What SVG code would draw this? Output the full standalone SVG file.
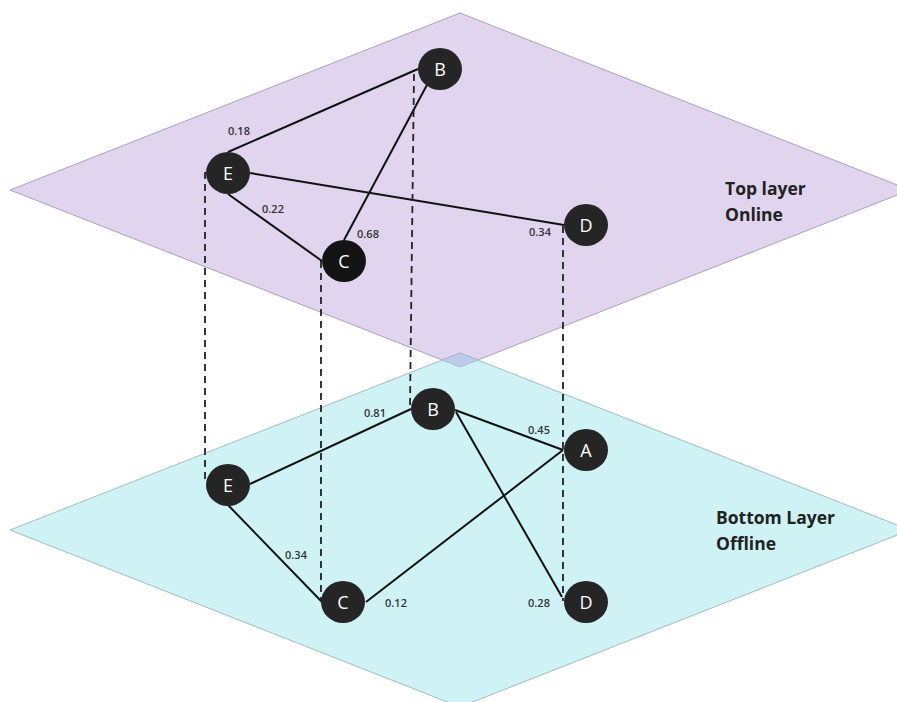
<svg xmlns="http://www.w3.org/2000/svg" width="897" height="702" viewBox="0 0 897 702">
<style>
.node ellipse{fill:#252525;}
.node text{fill:#fff;font-family:"Open Sans","Noto Sans",sans-serif;font-size:18px;text-anchor:middle;dominant-baseline:central;}
.edge{stroke:#111;stroke-width:2;fill:none;}
.link{stroke:#222;stroke-width:1.8;stroke-dasharray:7 5;fill:none;}
.w{font-family:"Open Sans","Noto Sans",sans-serif;font-size:11px;font-weight:600;fill:#333;text-anchor:middle;dominant-baseline:central;}
.layer{font-family:"Open Sans","Noto Sans",sans-serif;font-size:17.5px;font-weight:700;fill:#222;}
</style>
<rect width="897" height="702" fill="#fff"/>
<g id="planes">
<polygon points="460,13 910,190 460,367 10,190" fill="#e0d4ee" stroke="#aaa2b6" stroke-width="1"/>
<polygon points="460,353 910,530 460,707 10,530" fill="#cff2f5" stroke="#a3bcc0" stroke-width="1"/>
<polygon points="460,353 478,360 460,367 442,360" fill="#bccbea" stroke="#a3b4cc" stroke-width="0.8"/>
</g>
<g id="connectors">
<line class="edge" x1="228" y1="152" x2="418" y2="69"/>
<line class="edge" x1="250" y1="173" x2="564" y2="225"/>
<line class="edge" x1="228" y1="194" x2="322" y2="261"/>
<line class="edge" x1="428" y1="83" x2="344" y2="240"/>
<line class="edge" x1="250" y1="484" x2="411" y2="409"/>
<line class="edge" x1="455" y1="410" x2="563" y2="450"/>
<line class="edge" x1="456" y1="412" x2="562" y2="597"/>
<line class="edge" x1="563" y1="450" x2="366" y2="602"/>
<line class="edge" x1="228" y1="505" x2="322" y2="602"/>
<line class="link" x1="205" y1="172" x2="205" y2="484"/>
<line class="link" x1="321" y1="261" x2="321" y2="601"/>
<line class="link" x1="414" y1="74" x2="410" y2="406"/>
<line class="link" x1="563" y1="226" x2="563" y2="601"/>
</g>
<g id="weights">
<text class="w" x="239" y="130">0.18</text>
<text class="w" x="273" y="208">0.22</text>
<text class="w" x="368" y="233">0.68</text>
<text class="w" x="540" y="231">0.34</text>
<text class="w" x="375" y="412">0.81</text>
<text class="w" x="539" y="429">0.45</text>
<text class="w" x="296" y="554">0.34</text>
<text class="w" x="396" y="602">0.12</text>
<text class="w" x="539" y="602">0.28</text>
</g>
<g id="top-B" class="node"><ellipse cx="440" cy="69" rx="22" ry="21"/><text x="440" y="69">B</text></g>
<g id="top-E" class="node"><ellipse cx="228" cy="173" rx="22" ry="21"/><text x="228" y="173">E</text></g>
<g id="top-C" class="node"><ellipse cx="344" cy="261" rx="22" ry="21" style="fill:#141414"/><text x="344" y="261">C</text></g>
<g id="top-D" class="node"><ellipse cx="586" cy="225" rx="22" ry="21"/><text x="586" y="225">D</text></g>
<g id="bottom-B" class="node"><ellipse cx="433" cy="409" rx="22" ry="21"/><text x="433" y="409">B</text></g>
<g id="bottom-A" class="node"><ellipse cx="586" cy="450" rx="22" ry="21"/><text x="586" y="450">A</text></g>
<g id="bottom-E" class="node"><ellipse cx="228" cy="485" rx="22" ry="21"/><text x="228" y="485">E</text></g>
<g id="bottom-C" class="node"><ellipse cx="343" cy="602" rx="22" ry="21"/><text x="343" y="602">C</text></g>
<g id="bottom-D" class="node"><ellipse cx="586" cy="602" rx="22" ry="21"/><text x="586" y="602">D</text></g>
<g id="labels">
<text class="layer" x="725" y="195">Top layer</text>
<text class="layer" x="725" y="221">Online</text>
<text class="layer" x="716" y="524">Bottom Layer</text>
<text class="layer" x="716" y="550">Offline</text>
</g>
</svg>
